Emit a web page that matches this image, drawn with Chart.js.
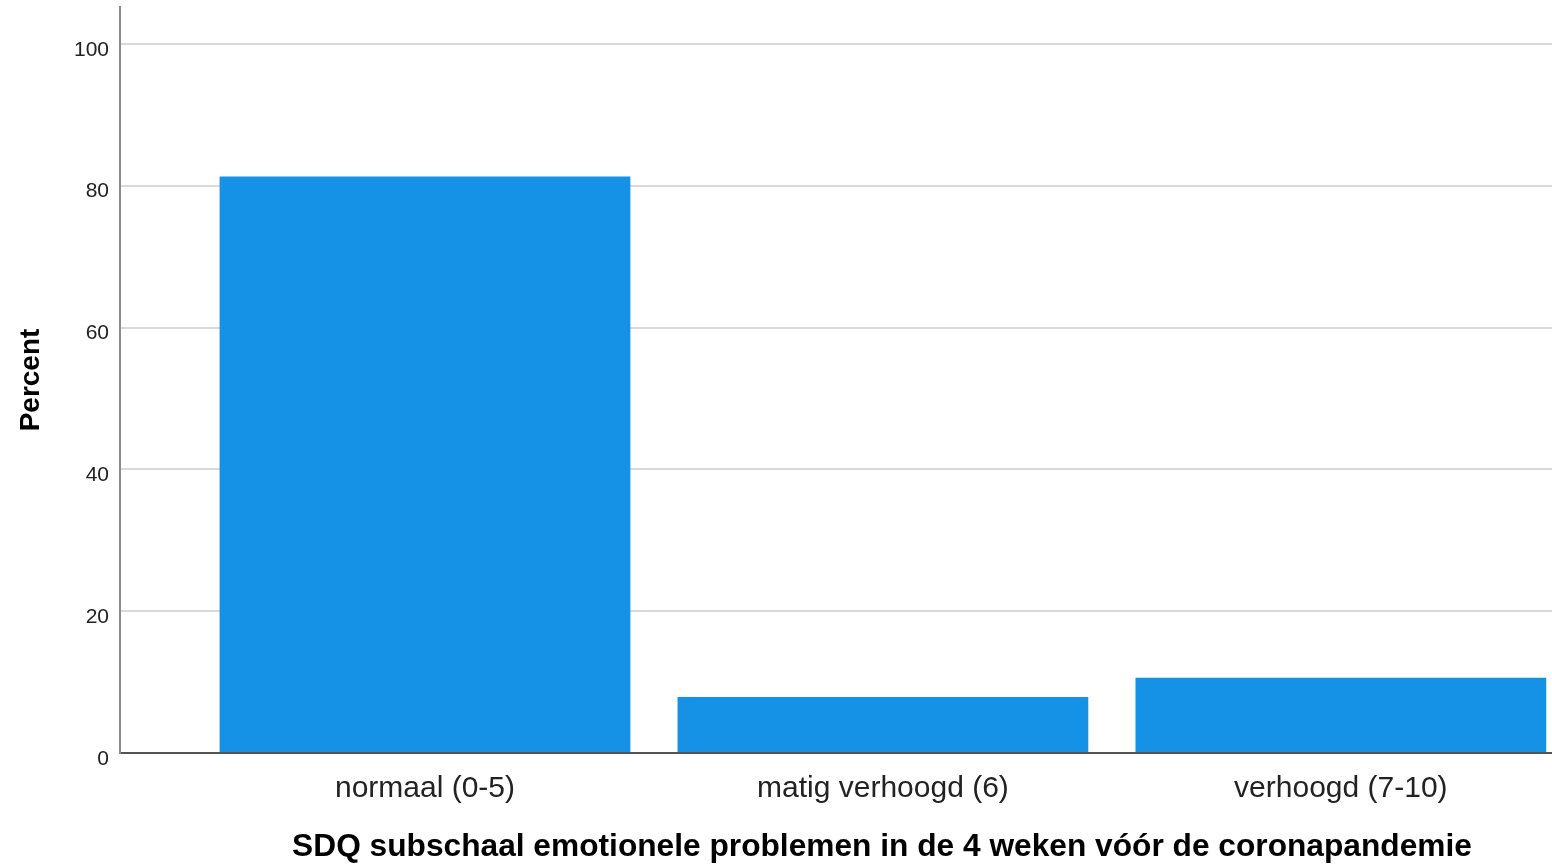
<!DOCTYPE html>
<html>
<head>
<meta charset="utf-8">
<script src="https://cdn.jsdelivr.net/npm/chart.js@4"></script>
<style>
  html, body { margin: 0; padding: 0; background: #fff; }
</style>
</head>
<body>
<canvas id="sdqChart" width="1552" height="866"></canvas>
<script>
// Data
const categories = ["normaal (0-5)", "matig verhoogd (6)", "verhoogd (7-10)"];
const percentValues = [81.3, 7.9, 10.6];
const yTickValues = [0, 20, 40, 60, 80, 100];

Chart.defaults.font.family = 'Arial, "Liberation Sans", sans-serif';

// bars sit on a linear x scale so the spacing matches the original
const points = percentValues.map((v, i) => ({ x: i, y: v }));

// the original picture is cropped on the right: let the plot run past the canvas edge
const extendRight = {
  id: "extendRight",
  afterLayout(chart) {
    const extra = 92;
    const x = chart.scales.x;
    chart.chartArea.right += extra;
    chart.chartArea.width += extra;
    x.right += extra;
    x.width += extra;
    x.configure();
  },
};

new Chart(document.getElementById("sdqChart"), {
  type: "bar",
  data: {
    datasets: [
      {
        label: "Percent",
        data: points,
        backgroundColor: "#1591e6",
        borderWidth: 0,
        categoryPercentage: 1,
        barPercentage: 0.897,
      },
    ],
  },
  plugins: [extendRight],
  options: {
    responsive: false,
    animation: false,
    layout: { padding: { top: 7, right: 0, left: 0, bottom: 0 } },
    plugins: {
      legend: { display: false },
      tooltip: { enabled: false },
    },
    scales: {
      x: {
        type: "linear",
        offset: false,
        min: -0.666,
        max: 2.662,
        afterBuildTicks: (scale) => {
          scale.ticks = categories.map((c, i) => ({ value: i }));
        },
        ticks: {
          callback: (v) => categories[v],
          font: { size: 30 },
          color: "#222",
          padding: 18,
          maxRotation: 0,
          autoSkip: false,
        },
        grid: { display: false, drawTicks: false },
        border: { display: true, color: "#555", width: 2 },
        title: {
          display: true,
          text: "SDQ subschaal emotionele problemen in de 4 weken vóór de coronapandemie",
          font: { size: 31.7, weight: "bold" },
          color: "#000",
          padding: { top: 0, bottom: 0 },
        },
        afterFit: (scale) => {
          scale.height = 113;
          scale.paddingLeft = 0;
          scale.paddingRight = 0;
        },
      },
      y: {
        min: 0,
        max: 105.2,
        afterBuildTicks: (scale) => {
          scale.ticks = yTickValues.map((v) => ({ value: v }));
        },
        ticks: { font: { size: 21 }, color: "#222", padding: 11, labelOffset: 6 },
        grid: {
          color: (ctx) => (ctx.tick && ctx.tick.value === 0 ? "rgba(0,0,0,0)" : "#d9d9d9"),
          lineWidth: 2,
          drawTicks: false,
        },
        border: { color: "#8c8c8c", width: 2 },
        title: {
          display: true,
          text: "Percent",
          font: { size: 28, weight: "bold" },
          color: "#000",
          padding: { top: 14, bottom: 0 },
        },
        afterFit: (scale) => {
          scale.width = 120;
          scale.paddingTop = 0;
          scale.paddingBottom = 0;
        },
      },
    },
  },
});
</script>
</body>
</html>
